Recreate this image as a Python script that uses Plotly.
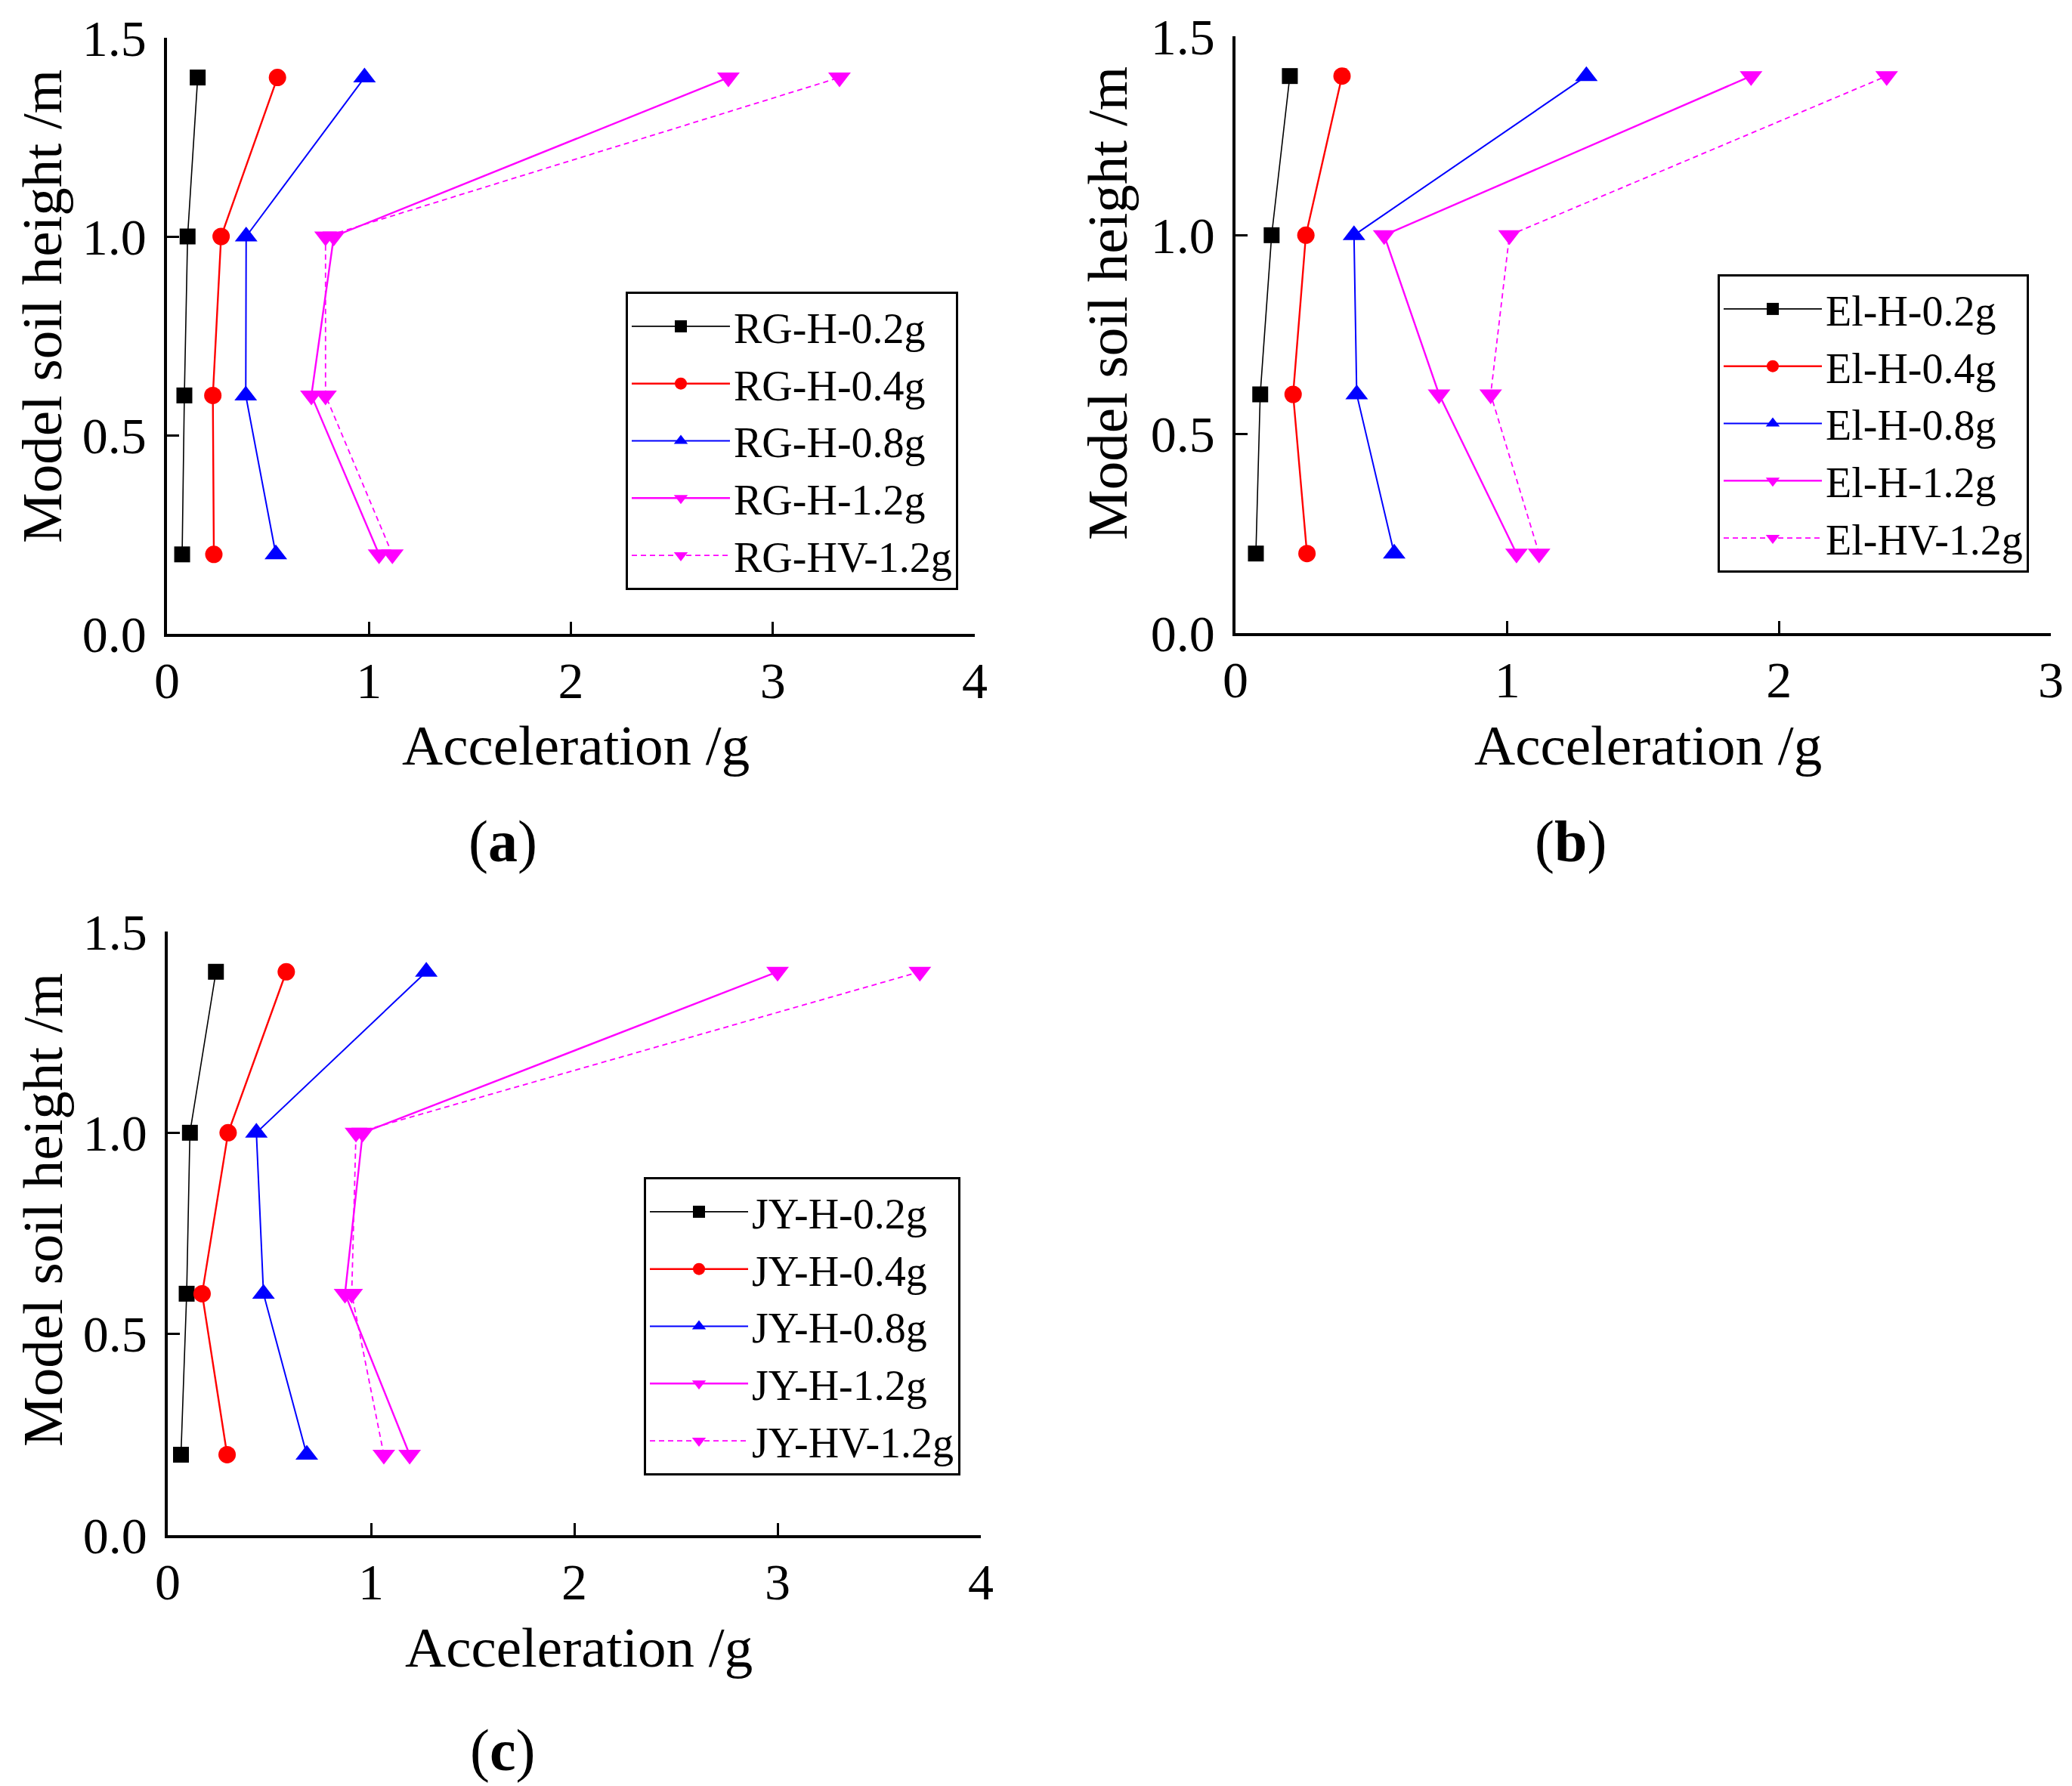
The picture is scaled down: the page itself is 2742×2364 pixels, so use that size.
import plotly.graph_objects as go

# ---------------- data ----------------
heights = [0.2, 0.6, 1.0, 1.4]

rg_names = ["RG-H-0.2g", "RG-H-0.4g", "RG-H-0.8g", "RG-H-1.2g", "RG-HV-1.2g"]
rg_h_02 = [0.075, 0.086, 0.102, 0.152]
rg_h_04 = [0.232, 0.227, 0.268, 0.547]
rg_h_08 = [0.539, 0.390, 0.392, 0.978]
rg_h_12 = [1.050, 0.715, 0.826, 2.780]
rg_hv_12 = [1.116, 0.785, 0.785, 3.330]

el_names = ["El-H-0.2g", "El-H-0.4g", "El-H-0.8g", "El-H-1.2g", "El-HV-1.2g"]
el_h_02 = [0.075, 0.091, 0.133, 0.200]
el_h_04 = [0.263, 0.212, 0.259, 0.392]
el_h_08 = [0.584, 0.446, 0.436, 1.291]
el_h_12 = [1.034, 0.749, 0.547, 1.897]
el_hv_12 = [1.117, 0.939, 1.008, 2.396]

jy_names = ["JY-H-0.2g", "JY-H-0.4g", "JY-H-0.8g", "JY-H-1.2g", "JY-HV-1.2g"]
jy_h_02 = [0.065, 0.093, 0.109, 0.237]
jy_h_04 = [0.292, 0.169, 0.297, 0.583]
jy_h_08 = [0.684, 0.471, 0.436, 1.272]
jy_h_12 = [1.190, 0.872, 0.959, 3.000]
jy_hv_12 = [1.063, 0.905, 0.926, 3.700]

x_ticks_ac = [0, 1, 2, 3, 4]
x_ticks_b = [0, 1, 2, 3]
y_ticks = [0.0, 0.5, 1.0, 1.5]
x_title = "Acceleration /g"
y_title = "Model soil height /m"
panel_labels = ["(<b>a</b>)", "(<b>b</b>)", "(<b>c</b>)"]

# ---------------- styles ----------------
FONT = "Liberation Serif, Times New Roman, serif"
styles = [
    dict(color="#000000", symbol="square", size=21, width=1.6, dash="solid"),
    dict(color="#FF0000", symbol="circle", size=23, width=2.4, dash="solid"),
    dict(color="#0000FF", symbol="triangle-up", size=26, width=2.0, dash="solid"),
    dict(color="#FF00FF", symbol="triangle-down", size=26, width=2.4, dash="solid"),
    dict(color="#FF00FF", symbol="triangle-down", size=26, width=1.8, dash="7px,5px"),
]

fig = go.Figure()

panels = [
    (rg_names, [rg_h_02, rg_h_04, rg_h_08, rg_h_12, rg_hv_12], "x", "y", "legend"),
    (el_names, [el_h_02, el_h_04, el_h_08, el_h_12, el_hv_12], "x2", "y2", "legend2"),
    (jy_names, [jy_h_02, jy_h_04, jy_h_08, jy_h_12, jy_hv_12], "x3", "y3", "legend3"),
]

for names, series, xa, ya, lg in panels:
    for name, vals, st in zip(names, series, styles):
        fig.add_trace(go.Scatter(
            x=vals, y=heights, name=name, mode="lines+markers",
            xaxis=xa, yaxis=ya, legend=lg, cliponaxis=False,
            line=dict(color=st["color"], width=st["width"], dash=st["dash"]),
            marker=dict(color=st["color"], symbol=st["symbol"], size=st["size"],
                        line=dict(width=0)),
        ))

# page body has an 8px margin; figure sized so it fits the 2742x2364 window
OFF = 8
W, H = 2742 - OFF, 2364 - OFF

def px_x(v):
    return (v - OFF) / W

def px_y(v):
    return 1 - (v - OFF) / H

axis_common = dict(
    showline=True, linecolor="black", linewidth=3.5, mirror=False,
    ticks="inside", ticklen=16, tickwidth=3, tickcolor="black",
    showgrid=False, zeroline=False, automargin=False,
    ticklabeloverflow="allow",
    tickfont=dict(family=FONT, size=68, color="black"),
)

domains = {
    "a": dict(x=[px_x(221), px_x(1290)], y=[px_y(839), px_y(50)]),
    "b": dict(x=[px_x(1635), px_x(2714)], y=[px_y(838), px_y(48)]),
    "c": dict(x=[px_x(222), px_x(1298)], y=[px_y(2032), px_y(1233)]),
}

fig.update_layout(
    width=W, height=H,
    margin=dict(l=0, r=0, t=0, b=0, autoexpand=False),
    paper_bgcolor="white", plot_bgcolor="white",
    font=dict(family=FONT, color="black"),
    xaxis=dict(domain=domains["a"]["x"], anchor="y", range=[0, 4], tickvals=x_ticks_ac, **axis_common),
    yaxis=dict(domain=domains["a"]["y"], anchor="x", range=[0, 1.5], tickvals=y_ticks,
               tickformat=".1f", ticklabelstandoff=10, **axis_common),
    xaxis2=dict(domain=domains["b"]["x"], anchor="y2", range=[0, 3], tickvals=x_ticks_b, **axis_common),
    yaxis2=dict(domain=domains["b"]["y"], anchor="x2", range=[0, 1.5], tickvals=y_ticks,
                tickformat=".1f", ticklabelstandoff=10, **axis_common),
    xaxis3=dict(domain=domains["c"]["x"], anchor="y3", range=[0, 4], tickvals=x_ticks_ac, **axis_common),
    yaxis3=dict(domain=domains["c"]["y"], anchor="x3", range=[0, 1.5], tickvals=y_ticks,
                tickformat=".1f", ticklabelstandoff=10, **axis_common),
)

legend_common = dict(
    bgcolor="white", bordercolor="black", borderwidth=3,
    font=dict(family=FONT, size=56, color="black"),
    itemwidth=130, xanchor="left", yanchor="top", tracegroupgap=0,
)
fig.update_layout(
    legend=dict(x=px_x(828), y=px_y(386), **legend_common),
    legend2=dict(x=px_x(2273), y=px_y(363), **legend_common),
    legend3=dict(x=px_x(852), y=px_y(1558), **legend_common),
)

title_font = dict(family=FONT, size=75, color="black")
# x-axis titles
for xc, yc in [(762, 986), (2181, 986), (766, 2180)]:
    fig.add_annotation(x=px_x(xc), y=px_y(yc), xref="paper", yref="paper",
                       text=x_title, showarrow=False, xanchor="center", yanchor="middle",
                       font=title_font)
# y-axis titles
for xc, yc in [(56, 406), (1466, 402), (56, 1602)]:
    fig.add_annotation(x=px_x(xc), y=px_y(yc), xref="paper", yref="paper",
                       text=y_title, showarrow=False, xanchor="center", yanchor="middle",
                       textangle=-90, font=title_font)

for (xc, yc), txt in zip([(665, 1114), (2078, 1114), (665, 2316)], panel_labels):
    fig.add_annotation(x=px_x(xc), y=px_y(yc), xref="paper", yref="paper",
                       text=txt, showarrow=False, xanchor="center", yanchor="middle",
                       font=dict(family=FONT, size=78, color="black"))

fig.write_html("out.html")
